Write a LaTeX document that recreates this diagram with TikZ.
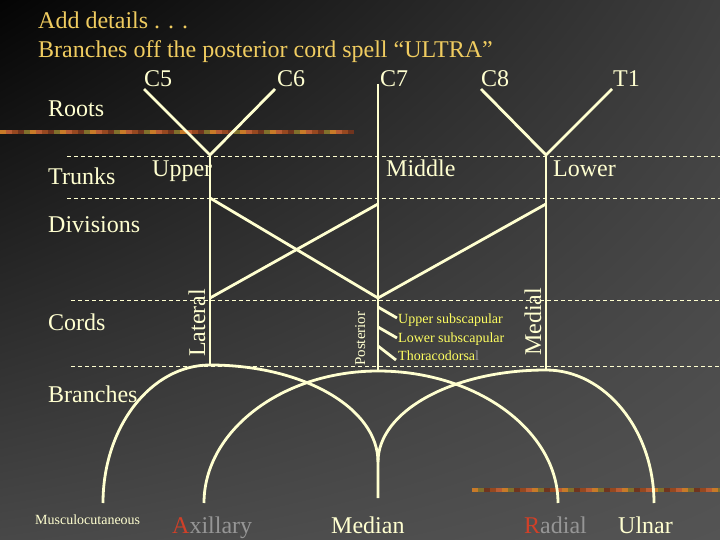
\documentclass[tikz,border=0pt]{standalone}
\usepackage{fontspec}
\setmainfont{Liberation Serif}
\usetikzlibrary{shadings}
\definecolor{cream}{RGB}{255,255,208}
\definecolor{gold}{RGB}{240,204,96}
\definecolor{lemon}{RGB}{255,255,96}
\definecolor{rust}{RGB}{208,64,40}
\definecolor{ash}{RGB}{150,150,150}
\definecolor{bgA}{RGB}{4,4,4}
\definecolor{bgB}{RGB}{62,62,62}
\definecolor{bgC}{RGB}{72,72,72}
\definecolor{bgD}{RGB}{84,84,84}
\definecolor{bar0}{RGB}{200,122,40}
\definecolor{bar1}{RGB}{150,72,32}
\definecolor{bar2}{RGB}{128,112,44}
\definecolor{bar3}{RGB}{184,92,52}
\definecolor{bar4}{RGB}{112,52,30}
\begin{document}
\begin{tikzpicture}[x=1pt, y=-1pt]
	\tikzset{t/.style={text=cream, inner sep=0pt, anchor=base west, font=\fontsize{24}{28}\selectfont},
	s/.style={text=lemon, inner sep=0pt, anchor=base west, font=\fontsize{14}{16}\selectfont},
	nv/.style={draw=cream, line width=2.8pt},
	lv/.style={draw=cream, line width=0.8pt, dash pattern=on 4pt off 3pt}};

	\useasboundingbox (0,0) rectangle (720,540);
	\shade[upper left=bgA, upper right=bgB, lower left=bgC, lower right=bgD] (0,0) rectangle (720,540);

	\foreach \i in {0,...,58}{
		\pgfmathtruncatemacro{\k}{mod(\i*3,5)}
		\fill[bar\k] (\i*6,130) rectangle ++(6,4);
	}
	\foreach \i in {0,...,41}{
		\pgfmathtruncatemacro{\k}{mod(\i*2,5)}
		\fill[bar\k] (472+\i*6,488) rectangle ++(6,4);
	}

	\draw[lv] (67,156) -- (720,156);
	\draw[lv] (67,198) -- (720,198);
	\draw[lv] (71,300) -- (720,300);
	\draw[lv] (71,366) -- (720,366);

	\node[t, text=gold] (ad) at (38,29) {Add details . . .};
	\node[t, text=gold] (ul) at (38,58) {Branches off the posterior cord spell “ULTRA”};

	\node[t] (ro) at (48,117) {Roots};
	\node[t] (tr) at (48,185) {Trunks};
	\node[t] (di) at (48,233) {Divisions};
	\node[t] (co) at (48,330) {Cords};
	\node[t] (br) at (48,402) {Branches};

	\node[t] (l5) at (144,87) {C5};
	\node[t] (l6) at (277,87) {C6};
	\node[t] (l7) at (380,87) {C7};
	\node[t] (l8) at (481,87) {C8};
	\node[t] (l1) at (613,87) {T1};

	\node[t] (tu) at (152,177) {Upper};
	\node[t] (tm) at (386,177) {Middle};
	\node[t] (tl) at (553,177) {Lower};

	\node[t, rotate=90] (cl) at (205,357) {Lateral};
	\node[t, rotate=90, font=\fontsize{15}{16}\selectfont] (cp) at (365,366) {Posterior};
	\node[t, rotate=90] (cm) at (541,356) {Medial};

	\node[s] (us) at (398,323) {Upper subscapular};
	\node[s] (ls) at (398,342) {Lower subscapular};
	\node[s] (th) at (398,360) {Thoracodorsa\textcolor{ash}{l}};

	\node[t, font=\fontsize{14}{16}\selectfont] (mu) at (35,524) {Musculocutaneous};
	\node[t, text=ash] (ax) at (172,533) {\textcolor{rust}{A}xillary};
	\node[t] (me) at (331,533) {Median};
	\node[t, text=ash] (ra) at (524,533) {\textcolor{rust}{R}adial};
	\node[t] (un) at (618,533) {Ulnar};

	\coordinate (r5) at (144,89);
	\coordinate (r6) at (275,89);
	\coordinate (r7) at (378,84);
	\coordinate (r8) at (481,89);
	\coordinate (r1) at (612,89);
	\coordinate (up) at (210,155);
	\coordinate (lo) at (546,155);
	\coordinate (upd) at (210,198);
	\coordinate (midd) at (378,204);
	\coordinate (lod) at (546,204);
	\coordinate (lat) at (210,298);
	\coordinate (post) at (378,298);
	\coordinate (latb) at (210,365);
	\coordinate (postb) at (378,371);
	\coordinate (medb) at (546,370);
	\coordinate (b1) at (378,307);
	\coordinate (b2) at (378,327);
	\coordinate (b3) at (378,346);
	\coordinate (e1) at (397,318);
	\coordinate (e2) at (397,338);
	\coordinate (e3) at (396,360);
	\coordinate (musc) at (103,503);
	\coordinate (axil) at (204,503);
	\coordinate (medj) at (378,462);
	\coordinate (medn) at (378,498);
	\coordinate (rad) at (558,503);
	\coordinate (uln) at (654,503);

	\draw[nv] (r5) -- (up);
	\draw[nv] (r6) -- (up);
	\draw[nv] (r8) -- (lo);
	\draw[nv] (r1) -- (lo);
	\draw[nv] (up) -- (latb);
	\draw[nv] (r7) -- (postb);
	\draw[nv] (lo) -- (medb);
	\draw[nv] (upd) -- (post);
	\draw[nv] (midd) -- (lat);
	\draw[nv] (lod) -- (post);
	\draw[nv] (b1) -- (e1);
	\draw[nv] (b2) -- (e2);
	\draw[nv] (b3) -- (e3);

	\draw[nv] (musc) .. controls +(0,-76) and +(-59,0) .. (latb)
		.. controls +(93,0) and +(0,-54) .. (medj) -- (medn);
	\draw[nv] (axil) .. controls +(0,-72) and +(-96,0) .. (postb)
		.. controls +(99,0) and +(0,-72) .. (rad);
	\draw[nv] (medj) .. controls +(0,-51) and +(-93,0) .. (medb)
		.. controls +(59,0) and +(0,-73) .. (uln);
\end{tikzpicture}
\end{document}
